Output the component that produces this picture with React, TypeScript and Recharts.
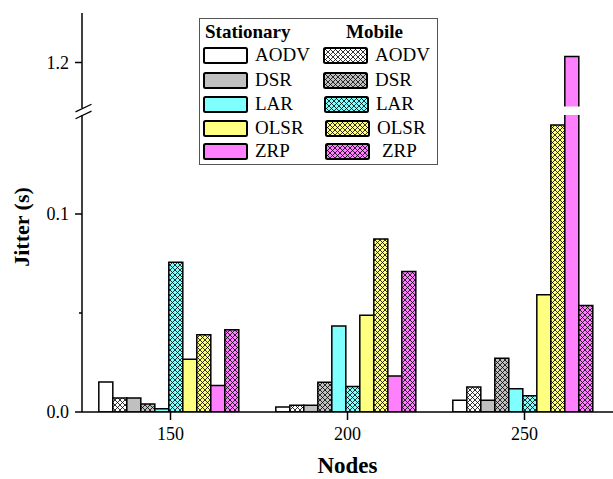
import React from 'react';
import { BarChart, Bar, XAxis, YAxis, Legend, ReferenceArea } from 'recharts';

const FONT = '"Liberation Serif", "Times New Roman", serif';

const nodes = ['150', '200', '250'];
const protocols = ['AODV', 'DSR', 'LAR', 'OLSR', 'ZRP'];
const protocolColors = ['#FFFFFF', '#C0C0C0', '#80FFFF', '#FFFF80', '#FF80FF'];

// jitter in seconds, one value per node count
const stationaryAODV = [0.0151, 0.0025, 0.0059];
const mobileAODV = [0.0071, 0.0034, 0.0126];
const stationaryDSR = [0.0071, 0.0034, 0.0059];
const mobileDSR = [0.004, 0.015, 0.0272];
const stationaryLAR = [0.0017, 0.0434, 0.0118];
const mobileLAR = [0.0756, 0.0129, 0.0082];
const stationaryOLSR = [0.0267, 0.0489, 0.0592];
const mobileOLSR = [0.039, 0.0874, 0.145];
const stationaryZRP = [0.0134, 0.0182, 1.203];
const mobileZRP = [0.0415, 0.0709, 0.0538];

const stationarySeries = [stationaryAODV, stationaryDSR, stationaryLAR, stationaryOLSR, stationaryZRP];
const mobileSeries = [mobileAODV, mobileDSR, mobileLAR, mobileOLSR, mobileZRP];

// broken y axis: 0..0.15 below the break, 1.177.. above it
const BREAK_LOW = 0.15;
const BREAK_HIGH = 1.177;
const BREAK_GAP = 0.0035;
const Y_TOP = 0.2015;

const toAxis = (v: number) => (v <= BREAK_LOW ? v : BREAK_LOW + BREAK_GAP + (v - BREAK_HIGH));
const fromAxis = (t: number) => (t <= BREAK_LOW + 1e-9 ? t : t - BREAK_LOW - BREAK_GAP + BREAK_HIGH);

const yTicks = [0, 0.05, 0.1, toAxis(1.2)];

const data = nodes.map((n, i) => {
  const row: Record<string, string | number> = { nodes: n };
  protocols.forEach((p, k) => {
    row[`s${p}`] = stationarySeries[k][i];
    row[`m${p}`] = mobileSeries[k][i];
  });
  return row;
});

const YTick = (props: any) => {
  const { x, y, payload } = props;
  const minor = Math.abs(payload.value - 0.05) < 1e-9;
  return (
    <g>
      <line x1={x - (minor ? 3 : 7)} x2={x} y1={y} y2={y} stroke="#000" strokeWidth={1.5} />
      {!minor && (
        <text x={x - 13} y={y} dy={6} textAnchor="end" fontSize={18} fill="#000" fontFamily={FONT}>
          {fromAxis(payload.value).toFixed(1)}
        </text>
      )}
    </g>
  );
};

const AxisBreak = (props: any) => {
  const { x, y, height } = props;
  const mark = (cy: number) => (
    <line x1={x - 6.5} y1={cy + 3.8} x2={x + 9.5} y2={cy - 3.8} stroke="#000" strokeWidth={1.3} />
  );
  return (
    <g>
      <rect x={x - 3} y={y} width={6} height={height} fill="#fff" />
      {mark(y)}
      {mark(y + height)}
    </g>
  );
};

const Swatch = ({ left, top, fill }: { left: number; top: number; fill: string }) => (
  <svg width={45} height={17} style={{ position: 'absolute', left, top }}>
    <rect x={1} y={1} width={43} height={15} rx={1.5} fill={fill} stroke="#000" strokeWidth={2} />
  </svg>
);

const rowCenters = [36, 61, 85, 109, 132];
const mobileShift = [0, 0, 1, 2, 2];

const LegendBox = () => (
  <div
    style={{
      position: 'relative',
      width: 239,
      height: 147,
      border: '1px solid #555',
      boxSizing: 'border-box',
      background: '#fff',
      color: '#000',
      fontFamily: FONT,
      fontSize: 19,
    }}
  >
    <span style={{ position: 'absolute', left: 5, top: 1, lineHeight: '24px', fontWeight: 'bold' }}>Stationary</span>
    <span style={{ position: 'absolute', left: 146, top: 1, lineHeight: '24px', fontWeight: 'bold' }}>Mobile</span>
    {protocols.map((p, k) => (
      <React.Fragment key={p}>
        <Swatch left={3} top={rowCenters[k] - 8} fill={protocolColors[k]} />
        <span style={{ position: 'absolute', left: 55, top: rowCenters[k] - 12, lineHeight: '24px' }}>{p}</span>
        <Swatch left={123 + mobileShift[k]} top={rowCenters[k] - 8} fill={`url(#hatch-${p})`} />
        <span style={{ position: 'absolute', left: 175 + mobileShift[k] + (p === 'ZRP' ? 5 : 0), top: rowCenters[k] - 12, lineHeight: '24px' }}>
          {p}
        </span>
      </React.Fragment>
    ))}
  </div>
);

export default function App() {
  return (
    <div style={{ width: 613, height: 479, fontFamily: FONT, background: '#fff' }}>
      <style>{'body{margin:0;background:#fff}'}</style>
      <BarChart
        width={613}
        height={479}
        data={data}
        margin={{ top: 13, right: 0, bottom: 0, left: 0 }}
        barCategoryGap="9.5%"
        barGap={0}
      >
        <defs>
          {protocols.map((p, k) => (
            <pattern key={p} id={`hatch-${p}`} patternUnits="userSpaceOnUse" width={5} height={5}>
              <rect width={5} height={5} fill={protocolColors[k]} />
              <path d="M-1,-1 L6,6 M6,-1 L-1,6" stroke="#000" strokeWidth={0.8} />
            </pattern>
          ))}
        </defs>
        <XAxis
          dataKey="nodes"
          height={67}
          tickSize={8}
          tickMargin={7}
          tick={{ fontSize: 18, fill: '#000', fontFamily: FONT }}
          axisLine={{ stroke: '#000', strokeWidth: 1.5 }}
          tickLine={{ stroke: '#000', strokeWidth: 1.5 }}
          label={{
            content: (p: any) => (
              <text
                x={p.viewBox.x + p.viewBox.width / 2}
                y={p.viewBox.y + p.viewBox.height - 6}
                textAnchor="middle"
                fontSize={23}
                fontWeight="bold"
                fontFamily={FONT}
                fill="#000"
              >
                Nodes
              </text>
            ),
          }}
        />
        <YAxis
          type="number"
          width={82}
          domain={[0, Y_TOP]}
          ticks={yTicks}
          interval={0}
          tickSize={0}
          tickMargin={0}
          tickLine={false}
          tick={<YTick />}
          axisLine={{ stroke: '#000', strokeWidth: 1.5 }}
          allowDataOverflow
          label={{
            content: (p: any) => {
              const x = p.viewBox.x + 28.5;
              const y = p.viewBox.y + p.viewBox.height / 2 + 14.5;
              return (
                <text
                  x={x}
                  y={y}
                  transform={`rotate(-90, ${x}, ${y})`}
                  textAnchor="middle"
                  fontSize={22}
                  fontWeight="bold"
                  fontFamily={FONT}
                  fill="#000"
                >
                  Jitter (s)
                </text>
              );
            },
          }}
        />
        <Legend
          layout="horizontal"
          verticalAlign="middle"
          align="center"
          content={<LegendBox />}
          wrapperStyle={{ left: 199, top: 18, width: 239, height: 147 }}
        />
        {protocols.flatMap((p, k) => [
          <Bar
            key={`s${p}`}
            name={`Stationary ${p}`}
            dataKey={(d: any) => toAxis(d[`s${p}`])}
            fill={protocolColors[k]}
            stroke="#000"
            strokeWidth={1.5}
            isAnimationActive={false}
          />,
          <Bar
            key={`m${p}`}
            name={`Mobile ${p}`}
            dataKey={(d: any) => toAxis(d[`m${p}`])}
            fill={`url(#hatch-${p})`}
            stroke="#000"
            strokeWidth={1.5}
            isAnimationActive={false}
          />,
        ])}
        <ReferenceArea
          x1="250"
          x2="250"
          y1={BREAK_LOW}
          y2={BREAK_LOW + BREAK_GAP + 0.0008}
          fill="#fff"
          fillOpacity={1}
          stroke="none"
          ifOverflow="visible"
          zIndex={1500}
        />
        <ReferenceArea
          y1={BREAK_LOW}
          y2={BREAK_LOW + BREAK_GAP}
          ifOverflow="visible"
          shape={<AxisBreak />}
          zIndex={1500}
        />
      </BarChart>
    </div>
  );
}
